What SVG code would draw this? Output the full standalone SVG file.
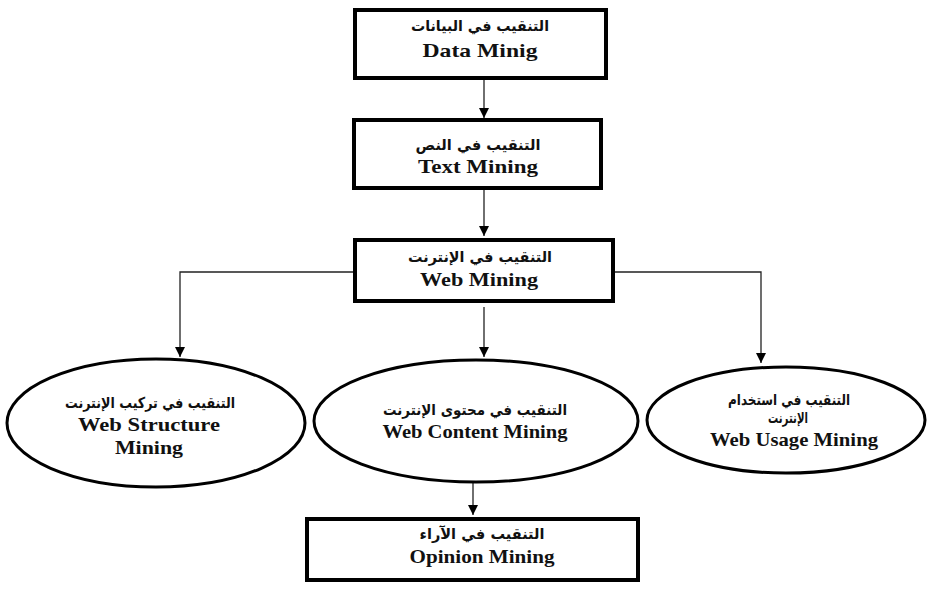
<svg xmlns="http://www.w3.org/2000/svg" width="931" height="611" viewBox="0 0 931 611">
<style>
.box{fill:#fff;stroke:#000;stroke-width:4}
.ell{fill:#fff;stroke:#000;stroke-width:3}
.ar{font-family:"DejaVu Sans","Noto Sans",sans-serif;font-weight:bold;font-size:15px;fill:#111;text-anchor:middle}
.en{font-family:"Liberation Serif","Times New Roman",serif;font-weight:bold;font-size:19px;fill:#111;text-anchor:middle}
.con{fill:none;stroke:#222;stroke-width:1.3}
</style>
<defs>
<marker id="ah" markerUnits="userSpaceOnUse" markerWidth="10" markerHeight="10" refX="10" refY="5" orient="auto">
<path d="M0,0 L10,5 L0,10 z" fill="#000"/>
</marker>
</defs>
<rect width="931" height="611" fill="#fff"/>
<g id="connectors">
<path class="con" d="M484 80 V118" marker-end="url(#ah)"/>
<path class="con" d="M484 190 V236" marker-end="url(#ah)"/>
<path class="con" d="M353 272 H180 V357" marker-end="url(#ah)"/>
<path class="con" d="M484 307 V357" marker-end="url(#ah)"/>
<path class="con" d="M615 272 H761 V363" marker-end="url(#ah)"/>
<path class="con" d="M473 483 V515" marker-end="url(#ah)"/>
</g>
<g id="data-mining">
<rect class="box" x="355" y="10" width="251" height="68"/>
<text class="ar" x="480" y="31" textLength="138" lengthAdjust="spacingAndGlyphs">التنقيب في البيانات</text>
<text class="en" x="480" y="57" textLength="115" lengthAdjust="spacingAndGlyphs">Data Minig</text>
</g>
<g id="text-mining">
<rect class="box" x="354" y="120" width="247" height="68"/>
<text class="ar" x="478" y="150" textLength="125" lengthAdjust="spacingAndGlyphs">التنقيب في النص</text>
<text class="en" x="478" y="173" textLength="120" lengthAdjust="spacingAndGlyphs">Text Mining</text>
</g>
<g id="web-mining">
<rect class="box" x="355" y="240" width="258" height="61"/>
<text class="ar" x="480" y="262" textLength="144" lengthAdjust="spacingAndGlyphs">التنقيب في الإنترنت</text>
<text class="en" x="479" y="286" textLength="118" lengthAdjust="spacingAndGlyphs">Web Mining</text>
</g>
<g id="web-structure">
<ellipse class="ell" cx="156" cy="423" rx="149" ry="64"/>
<text class="ar" x="150" y="408" textLength="170" lengthAdjust="spacingAndGlyphs">التنقيب في تركيب الإنترنت</text>
<text class="en" x="149" y="431" textLength="142" lengthAdjust="spacingAndGlyphs">Web Structure</text>
<text class="en" x="149" y="454" textLength="68" lengthAdjust="spacingAndGlyphs">Mining</text>
</g>
<g id="web-content">
<ellipse class="ell" cx="476" cy="421" rx="162" ry="61"/>
<text class="ar" x="475" y="415" textLength="184" lengthAdjust="spacingAndGlyphs">التنقيب في محتوى الإنترنت</text>
<text class="en" x="475" y="438" textLength="185" lengthAdjust="spacingAndGlyphs">Web Content Mining</text>
</g>
<g id="web-usage">
<ellipse class="ell" cx="786" cy="420" rx="139" ry="53"/>
<text class="ar" x="789" y="405" textLength="122" lengthAdjust="spacingAndGlyphs">التنقيب في استخدام</text>
<text class="ar" x="788" y="423" textLength="40" lengthAdjust="spacingAndGlyphs">الإنترنت</text>
<text class="en" x="794" y="446" textLength="168" lengthAdjust="spacingAndGlyphs">Web Usage Mining</text>
</g>
<g id="opinion-mining">
<rect class="box" x="307" y="519" width="331" height="61"/>
<text class="ar" x="482" y="539" textLength="125" lengthAdjust="spacingAndGlyphs">التنقيب في الآراء</text>
<text class="en" x="482" y="563" textLength="145" lengthAdjust="spacingAndGlyphs">Opinion Mining</text>
</g>
</svg>
